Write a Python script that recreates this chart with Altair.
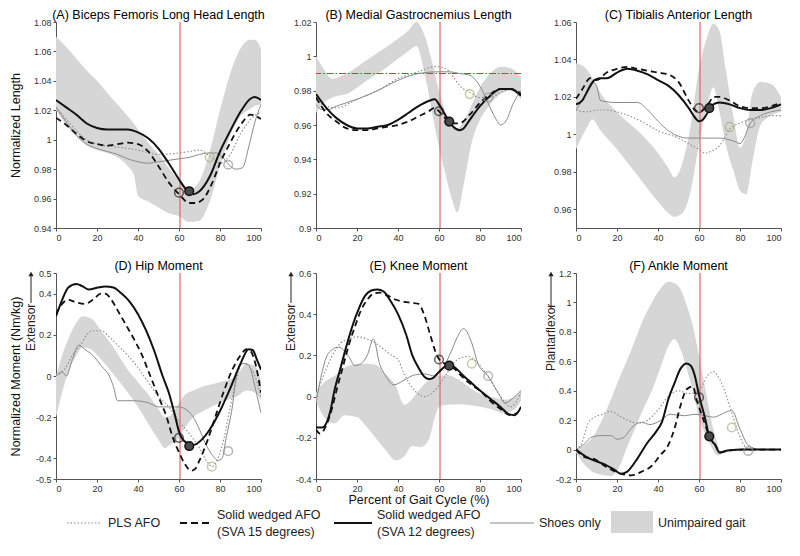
import altair as alt
import pandas as pd

FONT = "Liberation Sans, Arial, Helvetica, sans-serif"

# ---------------- data ----------------
XT = [0, 20, 40, 60, 80, 100]
TOE_OFF = [60.5]
MK_KIND = ["sva15", "sva12", "pls", "shoes"]

# (A) Biceps femoris long head length
A_BAND_X = [0, 5, 10, 15, 20, 25, 30, 35, 38, 40, 45, 50, 55, 60, 65, 70, 75, 80, 85, 90, 95, 97, 100]
A_BAND_HI = [1.070, 1.063, 1.055, 1.047, 1.040, 1.032, 1.024, 1.016, 1.011, 1.007, 0.998, 0.990, 0.981, 0.972, 0.966, 0.972, 0.992, 1.020, 1.045, 1.062, 1.068, 1.068, 1.062]
A_BAND_LO = [1.020, 1.010, 1.002, 0.996, 0.993, 0.991, 0.988, 0.982, 0.976, 0.962, 0.958, 0.954, 0.950, 0.948, 0.944, 0.945, 0.958, 0.982, 1.003, 1.016, 1.021, 1.023, 1.024]
A_SOLID_X = [0, 5, 10, 15, 20, 25, 30, 35, 40, 45, 50, 55, 60, 63, 67, 70, 75, 80, 85, 90, 95, 97, 100]
A_SOLID = [1.027, 1.022, 1.017, 1.011, 1.008, 1.007, 1.007, 1.007, 1.005, 1.001, 0.994, 0.984, 0.973, 0.967, 0.963, 0.965, 0.975, 0.992, 1.006, 1.019, 1.028, 1.029, 1.027]
A_DASH_X = [0, 5, 10, 15, 20, 25, 30, 35, 40, 45, 50, 55, 60, 65, 68, 72, 76, 80, 85, 90, 95, 100]
A_DASH = [1.015, 1.010, 1.004, 0.999, 0.997, 0.996, 0.997, 0.998, 0.997, 0.992, 0.982, 0.971, 0.963, 0.957, 0.957, 0.960, 0.970, 0.984, 0.998, 1.010, 1.017, 1.014]
A_SHOES_X = [0, 5, 10, 15, 20, 25, 30, 35, 40, 45, 50, 55, 60, 65, 70, 75, 78, 82, 85, 88, 91, 94, 97, 100]
A_SHOES = [1.022, 1.012, 1.003, 0.997, 0.994, 0.992, 0.990, 0.987, 0.985, 0.984, 0.985, 0.986, 0.987, 0.988, 0.990, 0.991, 0.991, 0.987, 0.982, 0.980, 0.981, 0.995, 1.012, 1.024]
A_PLS_X = [0, 5, 10, 15, 20, 30, 40, 50, 60, 65, 70, 75, 80, 85, 90, 95, 100]
A_PLS = [1.022, 1.014, 1.006, 1.000, 0.997, 0.995, 0.993, 0.990, 0.991, 0.992, 0.993, 0.989, 0.984, 0.990, 1.004, 1.014, 1.019]
A_MK_X = [60, 65, 75, 84]
A_MK_Y = [0.964, 0.965, 0.988, 0.983]

# (B) Medial gastrocnemius length
B_BAND_X = [0, 3, 8, 15, 25, 35, 45, 49, 53, 57, 60, 63, 66, 69, 72, 76, 80, 85, 90, 95, 100]
B_BAND_HI = [1.000, 0.994, 0.987, 0.990, 0.998, 1.006, 1.015, 1.020, 1.012, 0.995, 0.980, 0.968, 0.960, 0.958, 0.962, 0.972, 0.982, 0.990, 0.994, 0.993, 0.988]
B_BAND_LO = [0.967, 0.972, 0.976, 0.978, 0.986, 0.994, 1.003, 1.006, 0.990, 0.965, 0.947, 0.932, 0.918, 0.909, 0.925, 0.950, 0.963, 0.972, 0.978, 0.980, 0.975]
B_SOLID_X = [0, 5, 10, 15, 20, 25, 30, 35, 40, 45, 50, 55, 58, 60, 63, 65, 67, 70, 72, 75, 80, 85, 90, 95, 100]
B_SOLID = [0.978, 0.970, 0.964, 0.960, 0.958, 0.958, 0.959, 0.960, 0.963, 0.967, 0.971, 0.974, 0.975, 0.972, 0.966, 0.962, 0.959, 0.957, 0.958, 0.963, 0.971, 0.977, 0.981, 0.981, 0.977]
B_DASH_X = [0, 5, 10, 15, 20, 25, 30, 35, 40, 45, 50, 55, 58, 60, 63, 65, 67, 70, 75, 80, 85, 90, 95, 100]
B_DASH = [0.976, 0.967, 0.962, 0.958, 0.957, 0.957, 0.958, 0.959, 0.960, 0.962, 0.965, 0.968, 0.970, 0.968, 0.964, 0.962, 0.961, 0.961, 0.966, 0.973, 0.978, 0.981, 0.981, 0.978]
B_SHOES_X = [0, 3, 6, 10, 20, 30, 40, 50, 60, 65, 70, 75, 78, 82, 85, 88, 90, 93, 96, 100]
B_SHOES = [0.972, 0.969, 0.969, 0.971, 0.975, 0.980, 0.986, 0.990, 0.991, 0.991, 0.990, 0.989, 0.986, 0.978, 0.970, 0.963, 0.960, 0.963, 0.972, 0.980]
B_PLS_X = [0, 5, 10, 20, 30, 40, 50, 58, 63, 67, 70, 75, 80, 85, 90, 95, 100]
B_PLS = [0.975, 0.971, 0.970, 0.975, 0.980, 0.987, 0.991, 0.994, 0.993, 0.988, 0.983, 0.979, 0.976, 0.976, 0.979, 0.981, 0.979]
B_MK_X = [60, 65, 75, 84]
B_MK_Y = [0.968, 0.962, 0.978, 0.976]
B_REF = [0.99]

# (C) Tibialis anterior length
C_BAND_X = [0, 5, 8, 12, 20, 30, 40, 45, 48, 52, 56, 60, 64, 67, 70, 73, 77, 80, 83, 86, 90, 95, 100]
C_BAND_HI = [1.038, 1.035, 1.030, 1.022, 1.012, 1.002, 0.990, 0.982, 0.977, 0.985, 1.005, 1.035, 1.052, 1.059, 1.055, 1.035, 1.008, 0.993, 1.000, 1.022, 1.028, 1.027, 1.020]
C_BAND_LO = [0.992, 1.003, 1.008, 1.002, 0.992, 0.978, 0.964, 0.958, 0.956, 0.958, 0.970, 0.995, 1.015, 1.025, 1.012, 0.995, 0.980, 0.970, 0.968, 0.985, 1.005, 1.010, 1.012]
C_SOLID_X = [0, 3, 6, 9, 12, 15, 20, 25, 30, 35, 40, 45, 50, 55, 58, 60, 62, 65, 67, 70, 75, 80, 85, 90, 95, 100]
C_SOLID = [1.016, 1.018, 1.024, 1.029, 1.030, 1.030, 1.033, 1.035, 1.034, 1.032, 1.029, 1.026, 1.021, 1.014, 1.009, 1.007, 1.008, 1.013, 1.016, 1.017, 1.016, 1.014, 1.013, 1.013, 1.014, 1.016]
C_DASH_X = [0, 3, 7, 10, 15, 20, 25, 30, 35, 40, 45, 50, 55, 58, 60, 62, 65, 67, 70, 75, 80, 85, 90, 95, 100]
C_DASH = [1.019, 1.024, 1.030, 1.029, 1.033, 1.035, 1.036, 1.035, 1.034, 1.033, 1.032, 1.028, 1.018, 1.013, 1.012, 1.013, 1.017, 1.020, 1.020, 1.018, 1.015, 1.014, 1.014, 1.015, 1.017]
C_SHOES_X = [0, 4, 8, 10, 12, 20, 30, 35, 40, 45, 50, 55, 60, 65, 70, 75, 78, 80, 82, 85, 90, 95, 100]
C_SHOES = [1.013, 1.020, 1.028, 1.026, 1.018, 1.017, 1.017, 1.013, 1.007, 1.002, 0.999, 0.998, 0.998, 0.998, 0.998, 0.997, 0.996, 0.995, 0.998, 1.006, 1.010, 1.012, 1.013]
C_PLS_X = [0, 5, 10, 15, 20, 30, 40, 50, 55, 60, 63, 66, 70, 73, 75, 80, 85, 90, 95, 100]
C_PLS = [1.013, 1.012, 1.013, 1.013, 1.012, 1.008, 1.002, 0.998, 0.995, 0.992, 0.990, 0.991, 0.994, 0.999, 1.003, 1.006, 1.008, 1.009, 1.010, 1.010]
C_MK_X = [60, 65, 75, 85]
C_MK_Y = [1.014, 1.014, 1.004, 1.006]

# (D) Hip moment
D_BAND_X = [0, 3, 6, 10, 13, 17, 22, 28, 35, 40, 45, 50, 53, 56, 60, 63, 67, 72, 80, 88, 93, 97, 100]
D_BAND_HI = [0.00, 0.10, 0.18, 0.26, 0.29, 0.28, 0.22, 0.14, 0.03, -0.03, -0.09, -0.16, -0.20, -0.19, -0.13, -0.09, -0.07, -0.05, -0.03, 0.00, 0.06, 0.05, -0.02]
D_BAND_LO = [-0.20, -0.08, 0.02, 0.10, 0.14, 0.13, 0.08, 0.01, -0.08, -0.15, -0.23, -0.31, -0.35, -0.33, -0.30, -0.25, -0.20, -0.17, -0.13, -0.10, -0.07, -0.08, -0.12]
D_SOLID_X = [0, 3, 6, 10, 13, 16, 20, 24, 28, 32, 36, 40, 44, 48, 52, 55, 58, 60, 63, 67, 71, 75, 80, 85, 90, 94, 96, 98, 100]
D_SOLID = [0.29, 0.37, 0.43, 0.447, 0.435, 0.42, 0.428, 0.435, 0.43, 0.40, 0.36, 0.30, 0.22, 0.12, 0.00, -0.08, -0.19, -0.27, -0.32, -0.335, -0.31, -0.26, -0.17, -0.06, 0.06, 0.13, 0.125, 0.08, 0.03]
D_DASH_X = [0, 3, 6, 9, 14, 18, 22, 24, 27, 30, 34, 38, 42, 46, 50, 54, 57, 60, 63, 66, 68, 70, 74, 78, 82, 86, 90, 93, 95, 97, 100]
D_DASH = [0.30, 0.35, 0.37, 0.36, 0.35, 0.37, 0.40, 0.40, 0.37, 0.32, 0.25, 0.18, 0.10, 0.00, -0.10, -0.20, -0.30, -0.37, -0.43, -0.46, -0.45, -0.41, -0.31, -0.19, -0.07, 0.03, 0.10, 0.13, 0.12, 0.07, -0.08]
D_SHOES_X = [0, 3, 5, 8, 11, 14, 18, 22, 26, 28, 30, 33, 38, 45, 50, 55, 60, 63, 67, 70, 73, 76, 79, 81, 83, 86, 88, 91, 93, 95, 97, 100]
D_SHOES = [0.00, 0.02, 0.00, 0.08, 0.15, 0.13, 0.10, 0.05, 0.00, -0.05, -0.12, -0.12, -0.12, -0.13, -0.15, -0.15, -0.15, -0.16, -0.20, -0.26, -0.33, -0.38, -0.41, -0.40, -0.30, -0.15, 0.00, 0.06, 0.06, 0.03, -0.05, -0.18]
D_PLS_X = [0, 4, 8, 12, 15, 18, 22, 26, 30, 35, 40, 45, 50, 55, 60, 65, 70, 74, 76, 79, 82, 85, 88, 91, 94, 97, 100]
D_PLS = [0.00, 0.03, 0.10, 0.15, 0.20, 0.22, 0.22, 0.19, 0.15, 0.10, 0.04, -0.03, -0.10, -0.15, -0.22, -0.28, -0.35, -0.42, -0.44, -0.40, -0.30, -0.15, -0.02, 0.06, 0.05, 0.00, -0.10]
D_MK_X = [60, 65, 76, 84]
D_MK_Y = [-0.30, -0.34, -0.44, -0.365]

# (E) Knee moment
E_BAND_X = [0, 4, 9, 14, 20, 25, 29, 34, 39, 43, 47, 51, 55, 58, 60, 64, 70, 77, 85, 92, 97, 100]
E_BAND_HI = [0.02, 0.07, 0.10, 0.14, 0.16, 0.16, 0.155, 0.11, 0.05, -0.04, -0.01, 0.04, 0.08, 0.10, 0.10, 0.105, 0.08, 0.03, 0.00, -0.015, 0.00, 0.03]
E_BAND_LO = [-0.02, -0.10, -0.13, -0.09, -0.10, -0.15, -0.20, -0.26, -0.31, -0.29, -0.24, -0.245, -0.21, -0.10, -0.05, -0.04, -0.037, -0.045, -0.06, -0.08, -0.06, -0.02]
E_SOLID_X = [0, 3, 5, 7, 9, 12, 15, 18, 21, 24, 27, 30, 33, 36, 40, 44, 47, 50, 53, 55, 57, 60, 63, 66, 69, 72, 76, 80, 85, 90, 94, 97, 100]
E_SOLID = [-0.15, -0.15, -0.13, -0.07, 0.03, 0.14, 0.25, 0.35, 0.43, 0.49, 0.515, 0.52, 0.51, 0.47, 0.40, 0.30, 0.20, 0.14, 0.095, 0.085, 0.09, 0.12, 0.145, 0.15, 0.13, 0.10, 0.065, 0.03, -0.01, -0.05, -0.085, -0.09, -0.05]
E_DASH_X = [0, 2, 5, 8, 10, 13, 16, 19, 22, 25, 28, 31, 35, 39, 43, 47, 50, 53, 56, 59, 61, 63, 66, 69, 73, 77, 81, 85, 90, 95, 98, 100]
E_DASH = [-0.16, -0.18, -0.14, -0.05, 0.03, 0.14, 0.25, 0.34, 0.42, 0.47, 0.50, 0.505, 0.49, 0.47, 0.46, 0.455, 0.45, 0.39, 0.29, 0.20, 0.17, 0.16, 0.15, 0.12, 0.08, 0.05, 0.02, -0.02, -0.06, -0.09, -0.08, -0.05]
E_SHOES_X = [0, 3, 6, 11, 16, 19, 22, 25, 28, 31, 34, 38, 43, 48, 53, 58, 62, 66, 69, 72, 76, 79, 84, 89, 92, 97, 100]
E_SHOES = [-0.03, 0.12, 0.21, 0.24, 0.195, 0.15, 0.16, 0.20, 0.28, 0.16, 0.10, 0.057, 0.08, 0.105, 0.11, 0.10, 0.14, 0.22, 0.29, 0.33, 0.26, 0.16, 0.10, 0.016, -0.03, 0.00, 0.03]
E_PLS_X = [0, 4, 8, 12, 16, 20, 25, 29, 33, 37, 40, 43, 48, 53, 58, 63, 69, 74, 77, 80, 85, 90, 95, 100]
E_PLS = [0.00, 0.11, 0.20, 0.26, 0.28, 0.29, 0.28, 0.26, 0.23, 0.20, 0.18, 0.11, 0.03, 0.00, 0.03, 0.10, 0.18, 0.195, 0.18, 0.15, 0.08, 0.00, -0.05, 0.02]
E_MK_X = [60, 65, 76, 84]
E_MK_Y = [0.18, 0.15, 0.16, 0.10]

# (F) Ankle moment
F_BAND_X = [0, 4, 8, 12, 17, 21, 25, 29, 33, 37, 41, 45, 48, 51, 54, 57, 60, 63, 66, 69, 71]
F_BAND_HI = [0.00, 0.03, 0.08, 0.18, 0.34, 0.48, 0.61, 0.75, 0.89, 1.00, 1.09, 1.14, 1.13, 1.09, 0.98, 0.84, 0.64, 0.42, 0.20, 0.04, -0.03]
F_BAND_LO = [-0.02, -0.10, -0.15, -0.17, -0.18, -0.12, 0.02, 0.15, 0.28, 0.40, 0.55, 0.70, 0.75, 0.68, 0.55, 0.40, 0.22, 0.10, 0.02, -0.04, -0.03]
F_SOLID_X = [0, 5, 9, 14, 19, 22, 25, 30, 35, 39, 42, 45, 48, 51, 54, 56, 58, 60, 63, 65, 68, 70, 74, 82, 90, 100]
F_SOLID = [0.00, -0.05, -0.075, -0.10, -0.14, -0.165, -0.15, -0.06, 0.05, 0.12, 0.19, 0.34, 0.45, 0.55, 0.585, 0.57, 0.50, 0.37, 0.21, 0.09, 0.03, -0.02, -0.007, 0.00, 0.00, 0.00]
F_DASH_X = [0, 4, 9, 15, 22, 27, 32, 37, 41, 45, 48, 51, 54, 57, 59, 61, 63, 65, 68, 70, 74, 82, 90, 100]
F_DASH = [0.00, -0.05, -0.065, -0.12, -0.165, -0.175, -0.15, -0.11, -0.04, 0.03, 0.14, 0.30, 0.41, 0.43, 0.33, 0.25, 0.17, 0.09, 0.03, -0.02, -0.007, 0.00, 0.00, 0.00]
F_SHOES_X = [0, 5, 7, 12, 17, 20, 23, 28, 32, 36, 41, 46, 53, 58, 63, 67, 71, 74, 76, 80, 84, 90, 100]
F_SHOES = [0.00, 0.05, 0.08, 0.095, 0.095, 0.07, 0.08, 0.16, 0.185, 0.17, 0.195, 0.24, 0.23, 0.24, 0.23, 0.22, 0.24, 0.26, 0.265, 0.14, 0.03, 0.00, 0.00]
F_PLS_X = [0, 3, 6, 9, 13, 17, 21, 25, 30, 35, 40, 45, 50, 55, 60, 64, 67, 70, 73, 76, 79, 82, 85, 90, 100]
F_PLS = [0.00, 0.05, 0.18, 0.22, 0.24, 0.26, 0.23, 0.20, 0.18, 0.20, 0.27, 0.36, 0.40, 0.38, 0.40, 0.50, 0.53, 0.48, 0.38, 0.25, 0.12, 0.03, 0.00, 0.00, 0.00]
F_MK_X = [60, 65, 76, 84]
F_MK_Y = [0.355, 0.09, 0.15, -0.01]

LEGEND_LABELS = ["PLS AFO", "Solid wedged AFO", "(SVA 15 degrees)", "Solid wedged AFO",
                 "(SVA 12 degrees)", "Shoes only", "Unimpaired gait"]

# ---------------- styles / layout ----------------
W, H = 205, 206
BAND_COLOR = "#d6d6d6"
RED = "#e06666"
STYLE = {
    "shoes": dict(color="#8a8a8a", strokeWidth=1.0),
    "pls": dict(color="#8a8a8a", strokeWidth=1.1, strokeDash=[1.5, 2]),
    "sva15": dict(color="#111111", strokeWidth=1.8, strokeDash=[6, 4]),
    "sva12": dict(color="#111111", strokeWidth=2.0),
}
MK_COLORS = {"sva15": "#222222", "pls": "#b4b184", "shoes": "#9a9a9a"}


def ydf(xs, ys):
    return pd.DataFrame({"x": xs, "y": ys})


def panel(title, band, lines, marks, domain, yticks, ytitle=None, xtitle=None,
          annot=None, hline=None):
    xs = alt.Scale(domain=[0, 100], nice=False, zero=False)
    ys = alt.Scale(domain=domain, nice=False, zero=False)
    xax_kw = dict(values=XT, format="d", title=None)
    if xtitle:
        xax_kw.update(title=xtitle, titleY=20, titleBaseline="middle")
    yax_kw = dict(values=yticks, title=None,
                  labelExpr="replace(format(datum.value, '.3~g'), '\u2212', '-')")
    if ytitle:
        yax_kw.update(title=ytitle, titleX=-41, titleY=H / 2, titleAngle=270,
                      titleBaseline="middle", titleAlign="center")
    X = lambda f="x": alt.X(f"{f}:Q", scale=xs, axis=alt.Axis(**xax_kw))
    Y = lambda f="y": alt.Y(f"{f}:Q", scale=ys, axis=alt.Axis(**yax_kw))

    bx, blo, bhi = band
    bdf = pd.DataFrame({"x": bx, "y": blo, "y2": bhi})
    layers = [
        alt.Chart(bdf).mark_area(color=BAND_COLOR, interpolate="monotone", clip=True)
        .encode(x=X(), y=Y(), y2="y2:Q"),
        alt.Chart(pd.DataFrame({"x": TOE_OFF})).mark_rule(color=RED, strokeWidth=1.2)
        .encode(x=X()),
    ]
    if hline is not None:
        layers.append(
            alt.Chart(pd.DataFrame({"y": hline})).mark_rule(
                color="#d03a3a", strokeWidth=1.1, strokeDash=[7, 2, 1.5, 2])
            .encode(y=Y()))
    for key in ["shoes", "pls", "sva15", "sva12"]:
        lx, ly = lines[key]
        layers.append(
            alt.Chart(ydf(lx, ly)).mark_line(interpolate="monotone", clip=True, **STYLE[key])
            .encode(x=X(), y=Y()))
    mx, my = marks
    mdf = pd.DataFrame({"x": mx, "y": my, "kind": MK_KIND})
    layers.append(
        alt.Chart(mdf).transform_filter("datum.kind != 'sva12'")
        .mark_point(shape="circle", filled=False, size=75, strokeWidth=1.5)
        .encode(x=X(), y=Y(),
                color=alt.Color("kind:N", legend=None,
                                scale=alt.Scale(domain=list(MK_COLORS.keys()),
                                                range=list(MK_COLORS.values())))))
    layers.append(
        alt.Chart(mdf).transform_filter("datum.kind == 'sva12'")
        .mark_point(shape="circle", filled=True, size=75, fill="#4a4a4a",
                    stroke="#111111", strokeWidth=1.5, opacity=1)
        .encode(x=X(), y=Y()))
    if annot:
        text, y_end, y_arrow_top = annot
        layers.append(
            alt.Chart(pd.DataFrame({"t": [text]})).mark_text(
                angle=270, align="left", baseline="middle", font=FONT,
                fontSize=12, color="#222")
            .encode(x=alt.value(-25), y=alt.value(y_end), text="t:N"))
        layers.append(
            alt.Chart(pd.DataFrame({"t": [text]})).mark_rule(color="#222", strokeWidth=1)
            .encode(x=alt.value(-25), y=alt.value(y_arrow_top), y2=alt.value(2)))
        layers.append(
            alt.Chart(pd.DataFrame({"t": [text]})).mark_point(
                shape="triangle-up", filled=True, size=28, color="#222", opacity=1)
            .encode(x=alt.value(-25), y=alt.value(1)))
    return alt.layer(*layers).properties(
        width=W, height=H,
        title=alt.TitleParams(title, font=FONT, fontSize=12.5, fontWeight="normal",
                              color="#000", anchor="middle", frame="group", offset=-3))


pA = panel("(A) Biceps Femoris Long Head Length", (A_BAND_X, A_BAND_LO, A_BAND_HI),
           {"shoes": (A_SHOES_X, A_SHOES), "pls": (A_PLS_X, A_PLS),
            "sva15": (A_DASH_X, A_DASH), "sva12": (A_SOLID_X, A_SOLID)},
           (A_MK_X, A_MK_Y), [0.94, 1.08],
           [0.94, 0.96, 0.98, 1, 1.02, 1.04, 1.06, 1.08], ytitle="Normalized Length")
pB = panel("(B) Medial Gastrocnemius Length", (B_BAND_X, B_BAND_LO, B_BAND_HI),
           {"shoes": (B_SHOES_X, B_SHOES), "pls": (B_PLS_X, B_PLS),
            "sva15": (B_DASH_X, B_DASH), "sva12": (B_SOLID_X, B_SOLID)},
           (B_MK_X, B_MK_Y), [0.9, 1.02],
           [0.9, 0.92, 0.94, 0.96, 0.98, 1, 1.02], hline=B_REF)
pC = panel("(C) Tibialis Anterior Length", (C_BAND_X, C_BAND_LO, C_BAND_HI),
           {"shoes": (C_SHOES_X, C_SHOES), "pls": (C_PLS_X, C_PLS),
            "sva15": (C_DASH_X, C_DASH), "sva12": (C_SOLID_X, C_SOLID)},
           (C_MK_X, C_MK_Y), [0.95, 1.06],
           [0.96, 0.98, 1, 1.02, 1.04, 1.06])
pD = panel("(D) Hip Moment", (D_BAND_X, D_BAND_LO, D_BAND_HI),
           {"shoes": (D_SHOES_X, D_SHOES), "pls": (D_PLS_X, D_PLS),
            "sva15": (D_DASH_X, D_DASH), "sva12": (D_SOLID_X, D_SOLID)},
           (D_MK_X, D_MK_Y), [-0.5, 0.5],
           [-0.5, -0.4, -0.2, 0, 0.2, 0.4, 0.5], ytitle="Normalized Moment (Nm/kg)",
           annot=("Extensor", 78, 30))
pE = panel("(E) Knee Moment", (E_BAND_X, E_BAND_LO, E_BAND_HI),
           {"shoes": (E_SHOES_X, E_SHOES), "pls": (E_PLS_X, E_PLS),
            "sva15": (E_DASH_X, E_DASH), "sva12": (E_SOLID_X, E_SOLID)},
           (E_MK_X, E_MK_Y), [-0.4, 0.6],
           [-0.4, -0.2, 0, 0.2, 0.4, 0.6], xtitle="Percent of Gait Cycle (%)",
           annot=("Extensor", 78, 30))
pF = panel("(F) Ankle Moment", (F_BAND_X, F_BAND_LO, F_BAND_HI),
           {"shoes": (F_SHOES_X, F_SHOES), "pls": (F_PLS_X, F_PLS),
            "sva15": (F_DASH_X, F_DASH), "sva12": (F_SOLID_X, F_SOLID)},
           (F_MK_X, F_MK_Y), [-0.2, 1.2],
           [-0.2, 0, 0.2, 0.4, 0.6, 0.8, 1, 1.2],
           annot=("Plantarflexor", 98, 35))

# ---------------- custom legend (layout offsets in px) ----------------
LY = -1
leg_text = pd.DataFrame({
    "t": LEGEND_LABELS,
    "px": [52, 161, 161, 321, 321, 483, 602],
    "py": [LY, LY - 8.5, LY + 8.5, LY - 8.5, LY + 8.5, LY, LY],
})
one = pd.DataFrame({"t": ["k"]})
leg_layers = [
    alt.Chart(one).mark_rule(**STYLE["pls"]).encode(
        x=alt.value(11), x2=alt.value(45), y=alt.value(LY)),
    alt.Chart(one).mark_rule(color="#111", strokeWidth=1.8, strokeDash=[7, 4]).encode(
        x=alt.value(124), x2=alt.value(157), y=alt.value(LY)),
    alt.Chart(one).mark_rule(**STYLE["sva12"]).encode(
        x=alt.value(278), x2=alt.value(316), y=alt.value(LY)),
    alt.Chart(one).mark_rule(**STYLE["shoes"]).encode(
        x=alt.value(434), x2=alt.value(478), y=alt.value(LY)),
    alt.Chart(one).mark_rect(color=BAND_COLOR).encode(
        x=alt.value(555), x2=alt.value(597), y=alt.value(LY - 12), y2=alt.value(LY + 10)),
    alt.Chart(leg_text).mark_text(align="left", baseline="middle", font=FONT,
                                  fontSize=12.5, color="#222").encode(
        x=alt.X("px:Q", scale=None, axis=None), y=alt.Y("py:Q", scale=None, axis=None),
        text="t:N"),
]
legend = alt.layer(*leg_layers).properties(width=W, height=10)

chart = alt.concat(pA, pB, pC, pD, pE, pF, legend, columns=3,
                   spacing={"row": 45, "column": 55}, bounds="flush").properties(
    padding={"left": 0, "top": 0, "right": 4, "bottom": 4}
).configure_view(stroke=None).configure_axis(
    grid=False, domainColor="#555", tickColor="#555", tickSize=3,
    labelFont=FONT, labelFontSize=9, labelColor="#333", labelPadding=2,
    titleFont=FONT, titleFontSize=12.5, titleFontWeight="normal", titleColor="#111"
)

chart.save("out.html", embed_options={"renderer": "svg", "actions": False})
